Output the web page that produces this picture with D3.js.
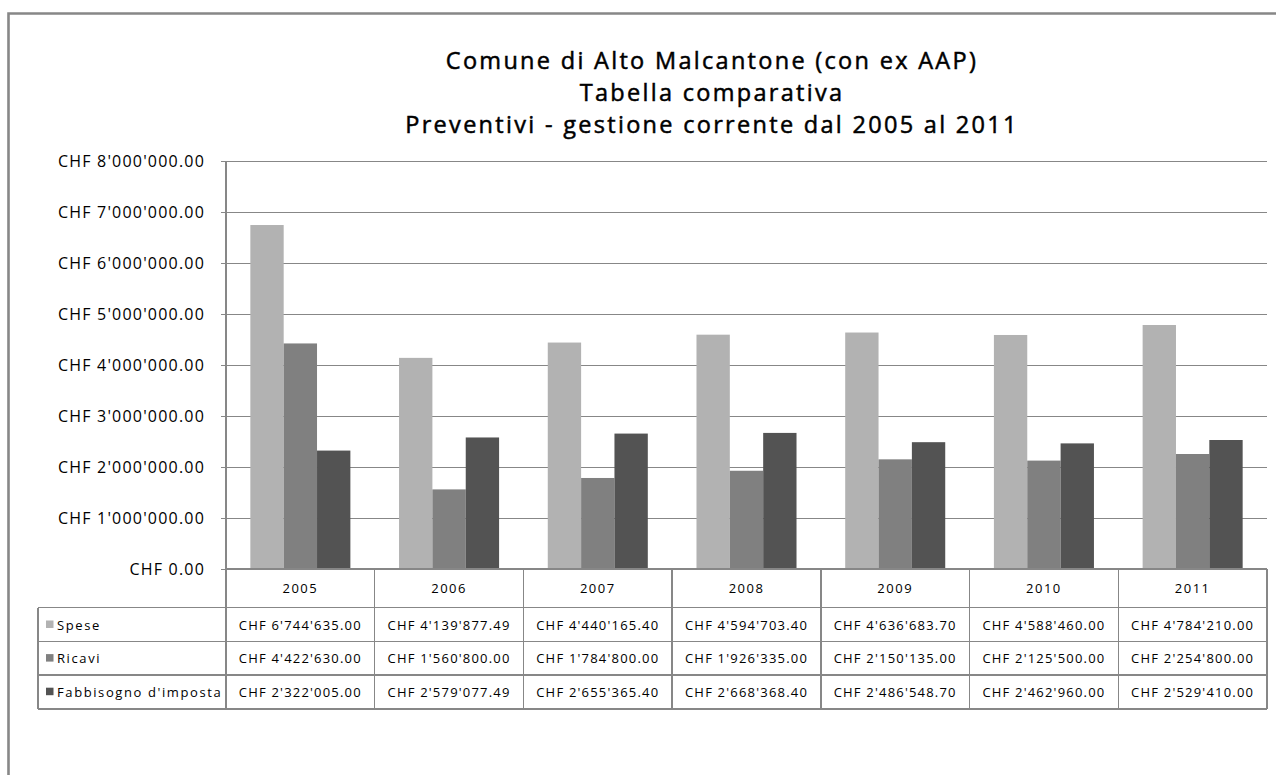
<!DOCTYPE html>
<meta charset="utf-8">
<style>
  body { margin: 0; background: #fff; }
  text { font-family: "Open Sans", sans-serif; fill: #000; }
</style>
<script src="https://d3js.org/d3.v7.min.js"></script>
<div id="chart"></div>
<script>
// data
const years = ['2005', '2006', '2007', '2008', '2009', '2010', '2011'];
const seriesNames = ['Spese', 'Ricavi', "Fabbisogno d'imposta"];
const spese = [6744635.00, 4139877.49, 4440165.40, 4594703.40, 4636683.70, 4588460.00, 4784210.00];
const ricavi = [4422630.00, 1560800.00, 1784800.00, 1926335.00, 2150135.00, 2125500.00, 2254800.00];
const fabbisogno = [2322005.00, 2579077.49, 2655365.40, 2668368.40, 2486548.70, 2462960.00, 2529410.00];
const yTicks = [0, 1000000, 2000000, 3000000, 4000000, 5000000, 6000000, 7000000, 8000000];
const titleLines = ['Comune di Alto Malcantone (con ex AAP)', 'Tabella comparativa', 'Preventivi - gestione corrente dal 2005 al 2011'];

const colors = ['#b2b2b2', '#808080', '#535353'];
const values = [spese, ricavi, fabbisogno];

const W = 1276, H = 775;
const plot = {left: 226, right: 1267, top: 161, bottom: 569};
const tableLeft = 38, headerH = 38.7, rowH = 33.6;

const chf = d3.formatLocale({decimal: '.', thousands: "'", grouping: [3], currency: ['CHF ', '']}).format("$,.2f");

const svg = d3.select('#chart').append('svg')
  .attr('width', W).attr('height', H);

// outer frame (only top and left visible)
svg.append('path')
  .attr('d', `M8.5,${H} V13.5 H${W}`)
  .attr('fill', 'none').attr('stroke', '#878787').attr('stroke-width', 2.6);

// title
const title = svg.append('text')
  .attr('x', 712).attr('y', 69)
  .attr('text-anchor', 'middle')
  .style('font-size', '23.5px').style('font-weight', 400).style('letter-spacing', '2.3px')
  .style('stroke', '#000').style('stroke-width', 0.5);
titleLines.forEach((t, i) => {
  title.append('tspan').attr('x', 712).attr('dy', i === 0 ? 0 : 32).text(t);
});

const x0 = d3.scaleBand().domain(years).range([plot.left, plot.right]);
const x1 = d3.scaleBand().domain(seriesNames).range([0, x0.bandwidth()]).paddingOuter(0.73);
const y = d3.scaleLinear().domain([0, 8000000]).range([plot.bottom, plot.top]);

// gridlines + y axis
const yAxis = d3.axisLeft(y).tickValues(yTicks).tickFormat(chf)
  .tickSize(-(plot.right - plot.left)).tickSizeOuter(0).tickPadding(21);
const gy = svg.append('g').attr('transform', `translate(${plot.left},0)`).call(yAxis);
gy.select('.domain').remove();
gy.selectAll('.tick line').attr('stroke', '#878787').attr('x1', -5).attr('shape-rendering', 'crispEdges');
gy.selectAll('.tick text').style('font-size', '16px').style('font-family', '"Open Sans", sans-serif')
  .style('letter-spacing', '1.2px').attr('fill', '#000');

// bars
const groups = svg.append('g').selectAll('g').data(years).enter().append('g')
  .attr('transform', d => `translate(${x0(d)},0)`);
groups.selectAll('rect')
  .data((d, i) => seriesNames.map((s, k) => ({s: s, v: values[k][i], c: colors[k]})))
  .enter().append('rect')
  .attr('x', d => x1(d.s))
  .attr('y', d => y(d.v))
  .attr('width', x1.bandwidth())
  .attr('height', d => y(0) - y(d.v))
  .attr('fill', d => d.c);

// data table
const tbl = svg.append('g').attr('stroke', '#878787').attr('stroke-width', 1.3).attr('shape-rendering', 'crispEdges');
const tableBottom = plot.bottom + headerH + rowH * 3;
// horizontal lines
tbl.append('line').attr('x1', plot.left).attr('x2', plot.right).attr('y1', plot.bottom).attr('y2', plot.bottom);
d3.range(4).forEach(r => {
  const yy = plot.bottom + headerH + rowH * r;
  tbl.append('line').attr('x1', tableLeft).attr('x2', plot.right).attr('y1', yy).attr('y2', yy)
    .attr('stroke-width', r === 3 ? 2 : 1.3);
});
// vertical lines
tbl.append('line').attr('x1', tableLeft).attr('x2', tableLeft).attr('y1', plot.bottom + headerH).attr('y2', tableBottom);
years.forEach(yr => {
  tbl.append('line').attr('x1', x0(yr)).attr('x2', x0(yr)).attr('y1', plot.bottom).attr('y2', tableBottom);
});
tbl.append('line').attr('x1', plot.right).attr('x2', plot.right).attr('y1', plot.bottom).attr('y2', tableBottom)
  .attr('stroke-width', 2);
tbl.append('line').attr('x1', plot.left).attr('x2', plot.left).attr('y1', plot.top).attr('y2', plot.bottom);

// year header
svg.append('g').selectAll('text').data(years).enter().append('text')
  .attr('x', d => x0(d) + x0.bandwidth() / 2)
  .attr('y', plot.bottom + headerH / 2 + 5)
  .attr('text-anchor', 'middle')
  .style('font-size', '13px').style('letter-spacing', '1.5px')
  .text(d => d);

// rows
seriesNames.forEach((s, k) => {
  const cy = plot.bottom + headerH + rowH * k + rowH / 2;
  svg.append('rect').attr('x', 46).attr('y', cy - 4).attr('width', 7.5).attr('height', 7.5).attr('fill', colors[k]);
  svg.append('text').attr('x', 57).attr('y', cy + 5).style('font-size', '13px').style('letter-spacing', '1.6px').text(s);
  svg.append('g').selectAll('text').data(years).enter().append('text')
    .attr('x', d => x0(d) + x0.bandwidth() / 2)
    .attr('y', cy + 5)
    .attr('text-anchor', 'middle')
    .style('font-size', '13px').style('letter-spacing', '1.2px')
    .text((d, i) => chf(values[k][i]));
});
</script>
